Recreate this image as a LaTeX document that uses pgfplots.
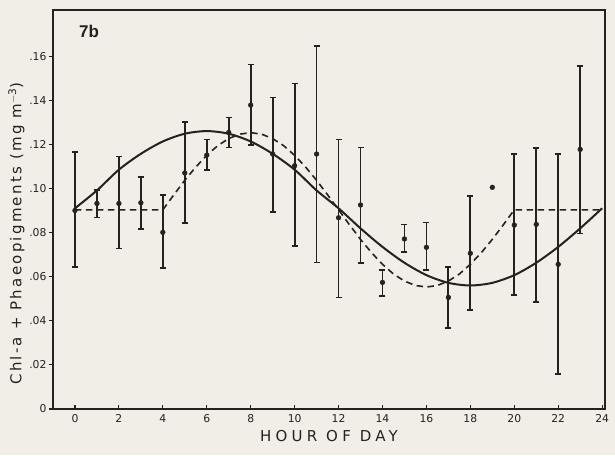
\documentclass[border=0pt]{standalone}
\usepackage{pgfplots}
\pgfplotsset{compat=1.18}
\usepackage{pgfplotstable}
\usepackage{fontspec}
\setmainfont{Liberation Sans}
\newfontfamily\lab[LetterSpace=15]{DejaVu Sans}
\newfontfamily\xlab[LetterSpace=28]{DejaVu Sans}
\newfontfamily\tk{DejaVu Sans}
\usetikzlibrary{backgrounds}
\definecolor{ink}{RGB}{38,33,30}
\definecolor{paper}{RGB}{240,238,231}

\pgfplotstableread{
h y ep em
0 0.0900 0.0264 0.0255
1 0.0932 0.0061 0.0063
2 0.0932 0.0212 0.0204
3 0.0935 0.0118 0.0120
4 0.0801 0.0169 0.0163
5 0.1070 0.0230 0.0228
6 0.1151 0.0071 0.0068
7 0.1254 0.0068 0.0068
8 0.1378 0.0184 0.0181
9 0.1156 0.0257 0.0264
10 0.1103 0.0373 0.0364
11 0.1156 0.0490 0.0491
12 0.0867 0.0355 0.0362
13 0.0925 0.0261 0.0262
14 0.0574 0.0056 0.0062
15 0.0771 0.0066 0.0058
16 0.0733 0.0112 0.0103
17 0.0506 0.0139 0.0140
18 0.0706 0.0260 0.0257
20 0.0834 0.0322 0.0317
21 0.0837 0.0345 0.0351
22 0.0656 0.0500 0.0497
23 0.1177 0.0379 0.0381
}\obs

\pgfplotstableread{
h y
0 0.0910
1 0.0991
2 0.1085
3 0.1157
4 0.1213
5 0.1248
6 0.1260
7 0.1248
8 0.1213
9 0.1157
10 0.1085
11 0.0991
12 0.0910
13 0.0819
14 0.0735
15 0.0663
16 0.0607
17 0.0572
18 0.0560
19 0.0572
20 0.0607
21 0.0663
22 0.0735
23 0.0819
24 0.0910
}\solidfit

\pgfplotstableread{
h y
0 0.0903
4.0 0.0903
4.5 0.0971
5.0 0.1037
5.5 0.1097
6.0 0.1150
6.5 0.1194
7.0 0.1226
7.5 0.1246
8.0 0.1253
8.5 0.1246
9.0 0.1226
9.5 0.1194
10.0 0.1150
10.5 0.1097
11.0 0.1037
11.5 0.0971
12.0 0.0903
12.5 0.0835
13.0 0.0769
13.5 0.0709
14.0 0.0656
14.5 0.0612
15.0 0.0580
15.5 0.0560
16.0 0.0553
16.5 0.0560
17.0 0.0580
17.5 0.0612
18.0 0.0656
18.5 0.0709
19.0 0.0769
19.5 0.0835
20.0 0.0903
24.0 0.0903
}\dashfit

\begin{document}
\begin{tikzpicture}[inner frame sep=0pt, background rectangle/.style={fill=paper}, show background rectangle]
\begin{axis}[
  name=ax,
  scale only axis,
  width=552pt, height=399pt,
  xmin=-1, xmax=24.13,
  ymin=0, ymax=0.1809,
  axis line style={ink, line width=1.5pt},
  xtick={0,2,...,24},
  ytick={0,0.02,0.04,0.06,0.08,0.10,0.12,0.14,0.16},
  yticklabels={0,.02,.04,.06,.08,.10,.12,.14,.16},
  xtick pos=bottom, ytick pos=left,
  x tick style={ink, line width=1.1pt},
  y tick style={ink, line width=1.1pt},
  xtick align=inside, ytick align=outside,
  major tick length=4pt,
  tick label style={font=\tk\fontsize{10.8}{12}\selectfont, text=ink},
  xticklabel style={yshift=-2pt},
  yticklabel style={xshift=1pt},
  /pgf/number format/assume math mode=true,
  xlabel={HOUR OF DAY},
  xlabel style={font=\xlab\fontsize{15}{17}\selectfont, text=ink, yshift=-1pt},
  ylabel={Chl-a + Phaeopigments (mg m\textsuperscript{$-$3})},
  ylabel style={font=\lab\fontsize{15}{17}\selectfont, text=ink, at={(ticklabel cs:0.44)}, yshift=-2pt},
  clip=false,
]
\addplot[ink, line width=2pt, smooth] table[x=h, y=y] {\solidfit};
\addplot[ink, line width=1.6pt, dash pattern=on 6.5pt off 4.5pt] table[x=h, y=y] {\dashfit};
\addplot[only marks, mark=*, mark size=2.4pt, ink,
  error bars/.cd, y dir=both, y explicit,
  error bar style={ink, line width=1.8pt},
  error mark options={ink, line width=1.6pt, mark size=3pt, rotate=90}]
  table[x=h, y=y, y error plus=ep, y error minus=em] {\obs};
\addplot[only marks, mark=*, mark size=2.4pt, ink] coordinates {(19,0.1005)};
\node[font=\bfseries\fontsize{17}{19}\selectfont, text=ink] at (axis cs:0.64,0.1713) {7b};
\end{axis}
\path (ax.south west) ++(-53pt,-46pt) coordinate (bl);
\path (ax.north east) ++(10pt,10pt) coordinate (tr);
\path (bl) rectangle (tr);
\end{tikzpicture}
\end{document}
